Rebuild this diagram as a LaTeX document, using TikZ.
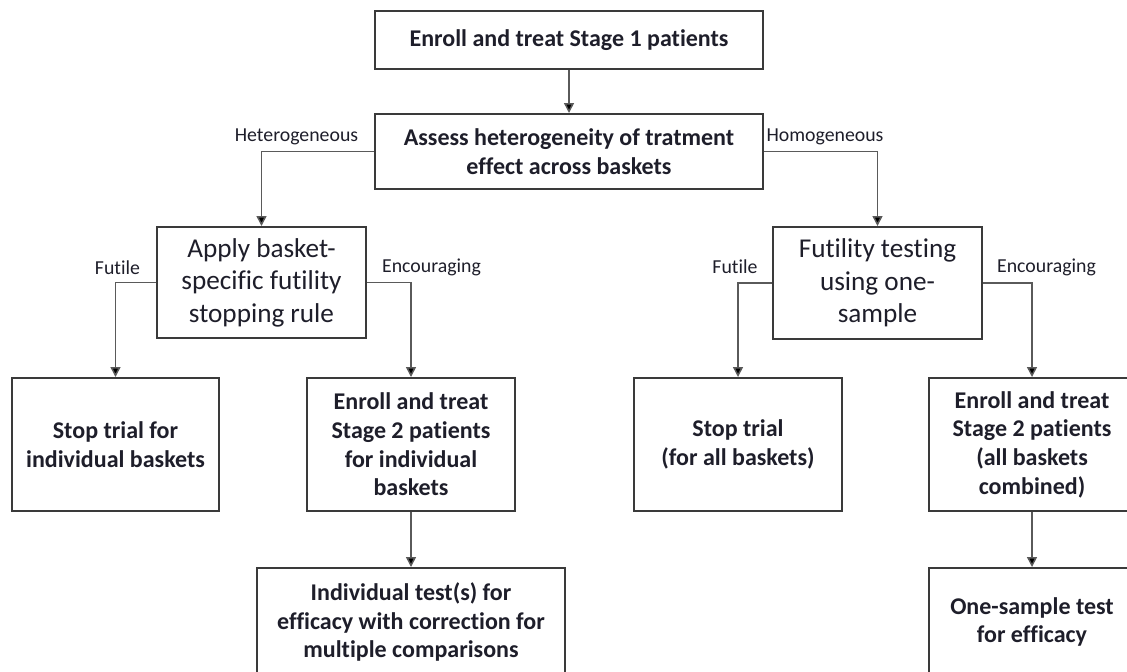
\documentclass[tikz,border=0pt]{standalone}
\usepackage{fontspec}
\setmainfont{Carlito}[Ligatures=NoCommon]
\usetikzlibrary{arrows.meta}

\definecolor{boxline}{HTML}{3A3A3A}
\definecolor{connline}{HTML}{5A5A5A}
\definecolor{inktext}{HTML}{1E1E2A}

\tikzset{
    stepbox/.style={draw=boxline, line width=1pt, fill=white, align=center,
        inner sep=2pt, text=inktext,
        font=\bfseries\fontsize{12}{14.3}\selectfont},
    testbox/.style={stepbox, font=\fontsize{13.6}{16.3}\selectfont},
    branch/.style={text=inktext, inner sep=0pt, font=\fontsize{9.9}{12}\selectfont},
    conn/.style={draw=connline, line width=0.75pt,
        -{Triangle[width=5pt,length=5pt,fill=black]}}
}

\begin{document}
\begin{tikzpicture}[x=0.5pt, y=-0.5pt]
            \useasboundingbox (0,0) rectangle (1127,671);
            % first stage
            \node[stepbox, minimum width=194pt, minimum height=29pt] (stage1) at (569,40)
                {Enroll and treat Stage 1 patients};
            \node[stepbox, minimum width=194pt, minimum height=37.5pt] (assess) at (569,151.5)
                {Assess heterogeneity of tratment\\effect across baskets};
            \draw[conn] (stage1) -- (assess);
            % heterogeneous branch
            \node[testbox, minimum width=104.5pt, minimum height=55.5pt] (apply) at (261.5,282.5)
                {Apply basket-\\specific futility\\stopping rule};
            \node[branch] (hetero) at (296.5,137) {Heterogeneous};
            \draw[conn] (assess.west) -| (apply.north);
            \node[stepbox, minimum width=103.5pt, minimum height=66.5pt] (stopind) at (115.5,444.5)
                {Stop trial for\\individual baskets};
            \node[stepbox, minimum width=104pt, minimum height=66.5pt] (enrollind) at (411,444.5)
                {Enroll and treat\\Stage 2 patients\\for individual\\baskets};
            \node[branch] (futileA) at (117.5,268) {Futile};
            \node[branch] (encourA) at (431.5,267) {Encouraging};
            \draw[conn] (apply.west) -| (stopind.north);
            \draw[conn] (apply.east) -| (enrollind.north);
            \node[stepbox, minimum width=154pt, minimum height=54pt] (indtest) at (411,622)
                {Individual test(s) for\\efficacy with correction for\\multiple comparisons};
            \draw[conn] (enrollind) -- (indtest);
            % homogeneous branch
            \node[testbox, minimum width=104.5pt, minimum height=56pt] (futtest) at (877.5,283)
                {Futility testing\\using one-\\sample};
            \node[branch] (homo) at (825,137) {Homogeneous};
            \draw[conn] (assess.east) -| (futtest.north);
            \node[stepbox, minimum width=104pt, minimum height=66.5pt] (stopall) at (738,444.5)
                {Stop trial\\(for all baskets)};
            \node[stepbox, minimum width=103pt, minimum height=66.5pt] (enrollall) at (1032,444.5)
                {Enroll and treat\\Stage 2 patients\\(all baskets\\combined)};
            \node[branch] (futileB) at (735,267) {Futile};
            \node[branch] (encourB) at (1046.5,267) {Encouraging};
            \draw[conn] (futtest.west) -| (stopall.north);
            \draw[conn] (futtest.east) -| (enrollall.north);
            \node[stepbox, minimum width=103pt, minimum height=54pt] (onetest) at (1032,622)
                {One-sample test\\for efficacy};
            \draw[conn] (enrollall) -- (onetest);
\end{tikzpicture}
\end{document}
